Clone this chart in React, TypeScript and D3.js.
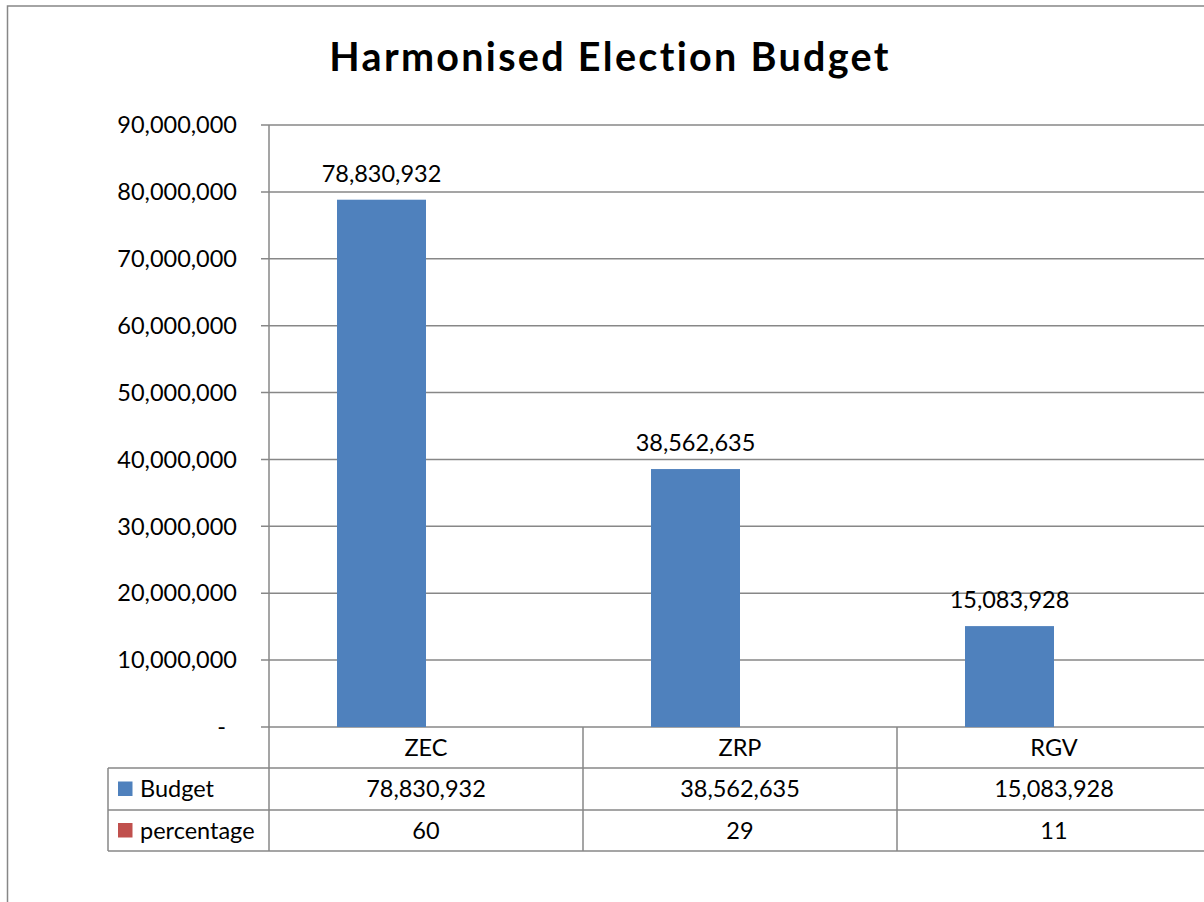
import React from "react";
import { scaleLinear, scaleBand, format } from "d3";

const categories = ["ZEC", "ZRP", "RGV"];
const budget = [78830932, 38562635, 15083928];
const percentage = [60, 29, 11];
const seriesNames = ["Budget", "percentage"];
const seriesColors = ["#4F81BD", "#C0504D"];
const yTicks = [0, 10000000, 20000000, 30000000, 40000000, 50000000, 60000000, 70000000, 80000000, 90000000];

const W = 1204;
const H = 902;
const FONT = "Lato, 'Open Sans', sans-serif";
const GRID = "#878787";
const FS = 23.5;

export default function App() {
  const plotLeft = 269;
  const catW = 314;
  const plotRight = plotLeft + catW * categories.length;
  const y = scaleLinear().domain([0, 90000000]).range([727, 125]);
  const x = scaleBand().domain(categories).range([plotLeft, plotRight]);
  const inner = scaleBand().domain(seriesNames).range([68, catW - 68]);
  const fmt = format(",");
  const rowH = [727, 768, 810, 851];
  const legendLeft = 108;
  const series = [budget, percentage];

  return (
    <svg
      width={W}
      height={H}
      style={{ position: "absolute", left: 0, top: 0, background: "#fff" }}
      fontFamily={FONT}
    >
      {/* outer chart frame */}
      <rect x={7.5} y={6} width={1400} height={1100} fill="#fff" stroke={GRID} strokeWidth={1.5} />

      <text x={610} y={71} textAnchor="middle" fontSize={39.5} fontWeight="bold" letterSpacing={2.3} fill="#000">
        Harmonised Election Budget
      </text>

      {/* gridlines + ticks */}
      {yTicks.map((t) => (
        <g key={t}>
          <line x1={261} x2={plotRight} y1={y(t)} y2={y(t)} stroke={GRID} strokeWidth={1.5} />
          <text
            x={t === 0 ? 226 : 237}
            y={y(t)}
            dy="0.35em"
            textAnchor="end"
            fontSize={FS}
            fill="#000"
          >
            {t === 0 ? "-" : fmt(t)}
          </text>
        </g>
      ))}

      {/* bars */}
      {categories.map((c, i) =>
        series.map((s, j) => (
          <rect
            key={c + j}
            x={(x(c) ?? 0) + (inner(seriesNames[j]) ?? 0)}
            y={y(s[i])}
            width={inner.bandwidth()}
            height={y(0) - y(s[i])}
            fill={seriesColors[j]}
          />
        ))
      )}

      {/* data labels */}
      {categories.map((c, i) => (
        <text
          key={c}
          x={(x(c) ?? 0) + (inner("Budget") ?? 0) + inner.bandwidth() / 2}
          y={y(budget[i]) - 18}
          textAnchor="middle"
          fontSize={FS}
          fill="#000"
        >
          {fmt(budget[i])}
        </text>
      ))}

      {/* y axis line */}
      <line x1={plotLeft} x2={plotLeft} y1={y(90000000)} y2={rowH[3]} stroke={GRID} strokeWidth={1.5} />

      {/* data table */}
      {rowH.slice(1).map((r) => (
        <line key={r} x1={legendLeft} x2={plotRight} y1={r} y2={r} stroke={GRID} strokeWidth={1.5} />
      ))}
      <line x1={legendLeft} x2={legendLeft} y1={rowH[1]} y2={rowH[3]} stroke={GRID} strokeWidth={1.5} />
      {categories.map((c) => (
        <line
          key={c}
          x1={(x(c) ?? 0) + x.bandwidth()}
          x2={(x(c) ?? 0) + x.bandwidth()}
          y1={rowH[0]}
          y2={rowH[3]}
          stroke={GRID}
          strokeWidth={1.5}
        />
      ))}
      {categories.map((c) => (
        <text
          key={c}
          x={(x(c) ?? 0) + x.bandwidth() / 2}
          y={(rowH[0] + rowH[1]) / 2}
          dy="0.35em"
          textAnchor="middle"
          fontSize={FS}
          fill="#000"
        >
          {c}
        </text>
      ))}
      {series.map((s, j) => {
        const cy = (rowH[j + 1] + rowH[j + 2]) / 2;
        return (
          <g key={seriesNames[j]}>
            <rect x={118} y={cy - 7.5} width={14.5} height={14.5} fill={seriesColors[j]} />
            <text x={140} y={cy} dy="0.35em" fontSize={FS} fill="#000">
              {seriesNames[j]}
            </text>
            {categories.map((c, i) => (
              <text
                key={c}
                x={(x(c) ?? 0) + x.bandwidth() / 2}
                y={cy}
                dy="0.35em"
                textAnchor="middle"
                fontSize={FS}
                fill="#000"
              >
                {j === 0 ? fmt(s[i]) : s[i]}
              </text>
            ))}
          </g>
        );
      })}
    </svg>
  );
}
